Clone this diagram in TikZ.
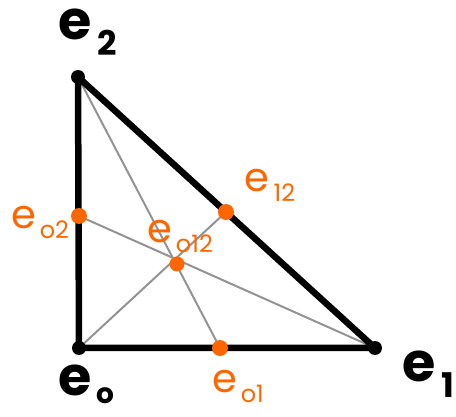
\documentclass[tikz,border=0pt]{standalone}
\usepackage{fontspec}
\setmainfont{Poppins}
\definecolor{pts}{HTML}{FF6600}
\begin{document}
\begin{tikzpicture}[x=1pt,y=-1pt,
  edge/.style={line width=6.5pt,line cap=round,line join=round},
  med/.style={gray!85,line width=2pt},
  vdot/.style={circle,fill=black,inner sep=0pt,minimum size=14pt},
  odot/.style={circle,fill=pts,inner sep=0pt,minimum size=16pt},
  blab/.style={font=\fontsize{54}{54}\selectfont\bfseries,text=black,inner sep=0pt},
  olab/.style={font=\fontsize{40}{40}\selectfont,text=pts,inner sep=0pt}]
\useasboundingbox (0,0) rectangle (456,417);
\coordinate (e0) at (79,348);
\coordinate (e1) at (375,348);
\coordinate (e2) at (78,77);
\coordinate (e01) at (220,348);
\coordinate (e02) at (79,216);
\coordinate (e12) at (226,212);
\coordinate (e012) at (177,264);
\draw[med] (e2) -- (e01);
\draw[med] (e0) -- (e12);
\draw[med] (e1) -- (e02);
\draw[edge] (e0) -- (e1) -- (e2) -- cycle;
\node[vdot] (d0) at (e0) {};
\node[vdot] (d1) at (e1) {};
\node[vdot] (d2) at (e2) {};
\node[odot] (o01) at (e01) {};
\node[odot] (o02) at (e02) {};
\node[odot] (o12) at (e12) {};
\node[odot,minimum size=15pt] (o012) at (e012) {};
\node[blab] (l2) at (88,32) {e\raisebox{-0.3em}{\fontsize{34}{34}\selectfont\,2}};
\node[blab] (l1) at (428,374) {e\raisebox{-0.3em}{\fontsize{34}{34}\selectfont\,1}};
\node[blab] (l0) at (86,384) {e\raisebox{-0.15em}{\fontsize{28}{28}\selectfont\,o}};
\node[olab] (t01) at (238,386) {e\raisebox{-0.25em}{\fontsize{24}{24}\selectfont\,o1}};
\node[olab] (t02) at (40,222) {e\raisebox{-0.25em}{\fontsize{24}{24}\selectfont\,o2}};
\node[olab] (t12) at (270,185) {e\raisebox{-0.25em}{\fontsize{24}{24}\selectfont\,12}};
\node[olab] (t012) at (180,236) {e\raisebox{-0.25em}{\fontsize{24}{24}\selectfont\,o12}};
\end{tikzpicture}
\end{document}
